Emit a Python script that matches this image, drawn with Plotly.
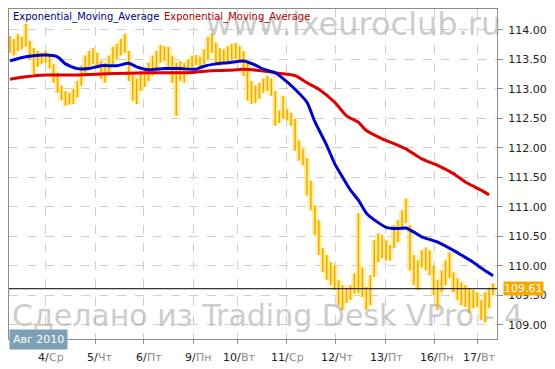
import plotly.graph_objects as go

# ---- data ----
price_high = [113.89, 113.84, 113.93, 113.88, 114.10, 113.81, 113.69, 113.64, 113.61, 113.64,
              113.56, 113.42, 113.27, 113.05, 112.96, 112.93, 113.00, 113.13, 113.39, 113.56,
              113.64, 113.69, 113.61, 113.47, 113.44, 113.56, 113.71, 113.76, 113.84, 113.93,
              113.64, 113.27, 113.17, 113.30, 113.35, 113.44, 113.56, 113.64, 113.74, 113.72,
              113.71, 113.56, 113.44, 113.47, 113.44, 113.50, 113.56, 113.57, 113.54, 113.67,
              113.88, 113.94, 113.78, 113.69, 113.67, 113.72, 113.76, 113.78, 113.72, 113.64,
              113.44, 113.13, 113.05, 113.10, 113.17, 113.22, 113.17, 112.96, 112.63, 112.88,
              112.66, 112.59, 112.49, 112.12, 111.98, 111.82, 111.44, 111.02, 110.77, 110.30,
              110.18, 110.06, 110.01, 109.76, 109.67, 109.62, 109.67, 109.87, 110.89, 109.97,
              109.64, 109.84, 110.43, 110.55, 110.52, 110.43, 110.35, 110.69, 110.77, 110.94,
              111.14, 110.69, 110.18, 110.09, 110.26, 110.31, 110.26, 110.01, 109.76, 109.92,
              110.09, 110.23, 109.89, 109.79, 109.72, 109.67, 109.62, 109.59, 109.55, 109.42,
              109.55, 109.62, 109.70]
price_low = [113.61, 113.56, 113.64, 113.67, 113.72, 113.50, 113.25, 113.37, 113.42, 113.44,
             113.34, 113.10, 112.93, 112.80, 112.71, 112.73, 112.74, 112.85, 113.05, 113.27,
             113.37, 113.42, 113.40, 113.17, 113.10, 113.27, 113.42, 113.50, 113.56, 113.61,
             113.13, 112.80, 112.74, 112.96, 113.03, 113.13, 113.22, 113.30, 113.44, 113.47,
             113.34, 113.10, 112.54, 113.13, 113.10, 113.27, 113.37, 113.40, 113.37, 113.42,
             113.50, 113.61, 113.44, 113.39, 113.44, 113.47, 113.50, 113.50, 113.44, 113.22,
             112.80, 112.74, 112.76, 112.83, 112.93, 112.96, 112.88, 112.37, 112.42, 112.49,
             112.46, 112.37, 111.95, 111.78, 111.70, 111.19, 110.94, 110.52, 110.18, 109.89,
             109.76, 109.67, 109.59, 109.33, 109.25, 109.37, 109.42, 109.53, 109.53, 109.47,
             109.25, 109.33, 109.81, 110.06, 110.13, 110.09, 110.09, 110.30, 110.40, 110.60,
             110.73, 109.92, 109.67, 109.59, 109.97, 109.92, 109.84, 109.50, 109.25, 109.55,
             109.67, 109.79, 109.55, 109.42, 109.33, 109.30, 109.20, 109.28, 109.30, 109.08,
             109.04, 109.28, 109.50]

ema_fast_idx = [0, 4, 9, 12, 14, 17, 20, 23, 27, 30, 32, 35, 39, 43, 47, 49, 52, 55, 59, 62,
                64, 67, 69, 72, 75, 77, 80, 82, 84, 86, 88, 90, 93, 95, 98, 100, 102, 104, 108,
                112, 114, 117, 119, 122]
ema_fast = [113.47, 113.54, 113.57, 113.54, 113.42, 113.34, 113.34, 113.39, 113.39, 113.43,
            113.37, 113.32, 113.34, 113.34, 113.33, 113.38, 113.42, 113.44, 113.47, 113.40,
            113.33, 113.27, 113.17, 112.99, 112.77, 112.44, 112.04, 111.73, 111.50, 111.28,
            111.11, 110.89, 110.73, 110.65, 110.63, 110.64, 110.57, 110.49, 110.40, 110.26,
            110.18, 110.06, 109.96, 109.83]

ema_slow_idx = [0, 4, 9, 16, 23, 30, 35, 40, 45, 50, 55, 59, 64, 68, 72, 75, 78, 82, 85, 88,
                90, 94, 98, 100, 104, 108, 112, 115, 119, 121]
ema_slow = [113.16, 113.20, 113.23, 113.23, 113.25, 113.26, 113.27, 113.27, 113.27, 113.30,
            113.31, 113.33, 113.30, 113.26, 113.22, 113.10, 112.99, 112.77, 112.54, 112.43,
            112.29, 112.15, 112.04, 111.98, 111.81, 111.70, 111.56, 111.42, 111.28, 111.20]

day_pos = [9, 21.5, 33.75, 46.25, 57.5, 69.75, 82.25, 94.75, 107.25, 118.2]
day_nums = ["4", "5", "6", "9", "10", "11", "12", "13", "16", "17"]
day_names = ["Ср", "Чт", "Пт", "Пн", "Вт", "Ср", "Чт", "Пт", "Пн", "Вт"]
y_ticks = [109.0, 109.5, 110.0, 110.5, 111.0, 111.5, 112.0, 112.5, 113.0, 113.5, 114.0]
last_price = 109.61
month_label = "Авг 2010"
legend_names = ["Exponential_Moving_Average", "Exponential_Moving_Average"]

# ---- build bar segments ----
bx, by = [], []
for i, (h, l) in enumerate(zip(price_high, price_low)):
    bx += [i, i, None]
    by += [l, h, None]

fig = go.Figure()
fig.add_trace(go.Scatter(x=bx, y=by, mode="lines", hoverinfo="skip",
                         line=dict(color="rgba(255,232,120,0.75)", width=6)))
fig.add_trace(go.Scatter(x=bx, y=by, mode="lines",
                         line=dict(color="#f5a500", width=1.5)))
fig.add_trace(go.Scatter(x=ema_slow_idx, y=ema_slow, mode="lines",
                         line=dict(color="#e00000", width=3, shape="spline", smoothing=0.6)))
fig.add_trace(go.Scatter(x=ema_fast_idx, y=ema_fast, mode="lines",
                         line=dict(color="#0000cc", width=3, shape="spline", smoothing=0.6)))

fig.add_shape(type="line", xref="paper", x0=0, x1=1, yref="y", y0=last_price, y1=last_price,
              line=dict(color="black", width=1))

ann = []
# watermarks
ann.append(dict(text="www.ixeuroclub.ru", xref="paper", yref="paper", x=(205 - 8) / 493,
                y=(339 - 23) / 331, xanchor="left", yanchor="middle", showarrow=False,
                font=dict(family="DejaVu Sans", size=32, color="rgba(170,170,170,0.6)")))
ann.append(dict(text="Сделано из Trading Desk VPro - 4", xref="paper", yref="paper",
                x=(9 - 8) / 493, y=(339 - 315) / 331, xanchor="left", yanchor="middle",
                showarrow=False,
                font=dict(family="DejaVu Sans", size=30, color="rgba(170,170,170,0.6)")))
# legend texts
ann.append(dict(text=legend_names[0], xref="paper", yref="paper", x=(10 - 8) / 493,
                y=(339 - 16) / 331, xanchor="left", yanchor="middle", showarrow=False,
                font=dict(family="DejaVu Sans", size=10, color="#000080")))
ann.append(dict(text=legend_names[1], xref="paper", yref="paper", x=(163 - 8) / 493,
                y=(339 - 16) / 331, xanchor="left", yanchor="middle", showarrow=False,
                font=dict(family="DejaVu Sans", size=10, color="#b00000")))
# day labels
for p, n, d in zip(day_pos, day_nums, day_names):
    ann.append(dict(text=n + "/", x=p, xref="x", yref="paper", y=(339 - 358) / 331,
                    xanchor="right", yanchor="middle", xshift=4, borderpad=0, showarrow=False,
                    font=dict(family="DejaVu Sans", size=11, color="#222222")))
    ann.append(dict(text=d, x=p, xref="x", yref="paper", y=(339 - 358) / 331,
                    xanchor="left", yanchor="middle", xshift=2, borderpad=0, showarrow=False,
                    font=dict(family="DejaVu Sans", size=11, color="#8a8a8a")))
# month box
ann.append(dict(text=month_label, xref="paper", yref="paper", x=0, y=(339 - 340) / 331,
                xanchor="left", yanchor="middle", showarrow=False, bgcolor="#7f9fb6",
                borderpad=3, font=dict(family="DejaVu Sans", size=11, color="white")))
# last price box
ann.append(dict(text=f"{last_price:.2f}", xref="paper", yref="y", x=1, y=last_price,
                xanchor="left", yanchor="middle", xshift=6, showarrow=False,
                bgcolor="#f5a800", borderpad=0,
                font=dict(family="DejaVu Sans", size=11, color="white")))

fig.update_layout(
    width=555, height=369,
    margin=dict(l=8, r=54, t=8, b=30),
    paper_bgcolor="white", plot_bgcolor="white",
    showlegend=False,
    annotations=ann,
    xaxis=dict(range=[-0.25, 123], tickvals=day_pos, showticklabels=False,
               ticks="outside", ticklen=4, tickcolor="#8c8c8c",
               showgrid=True, gridcolor="#cfcfcf", griddash="dash", gridwidth=1,
               showline=True, linecolor="#8c8c8c", mirror=True, zeroline=False),
    yaxis=dict(range=[108.758, 114.35], side="right", tickvals=y_ticks,
               ticktext=[f"{v:.2f}" for v in y_ticks],
               ticks="outside", ticklen=5, tickcolor="#8c8c8c", ticklabelstandoff=3,
               tickfont=dict(family="DejaVu Sans", size=11, color="#222222"),
               showgrid=True, gridcolor="#cfcfcf", griddash="dash", gridwidth=1,
               showline=True, linecolor="#8c8c8c", mirror=True, zeroline=False),
)

fig.write_html("out.html", config={"displayModeBar": False},
               post_script="document.body.style.margin='0';document.body.style.overflow='hidden';")
